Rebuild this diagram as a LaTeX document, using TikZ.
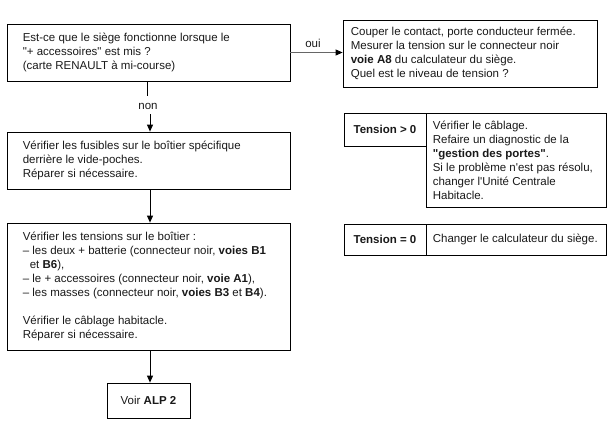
\documentclass[tikz,border=0pt]{standalone}
\usepackage{fontspec}
\setmainfont{Liberation Sans}[Ligatures=TeXOff]
\usetikzlibrary{arrows.meta}
\begin{document}
\begin{tikzpicture}[x=1pt,y=-1pt,
  box/.style={draw=black,line width=0.8pt,inner sep=0pt,rectangle},
  txt/.style={inner sep=0pt,align=left,font=\fontsize{11.5}{14}\selectfont,text=black!90},
  lbl/.style={inner sep=0pt,font=\fontsize{11.5}{14}\selectfont,text=black!90},
  arr/.style={line width=0.9pt,-{Triangle[length=7pt,width=6pt,color=black]}},
  lin/.style={line width=0.9pt}]
\useasboundingbox (0,0) rectangle (616,432);
% left column
\node[box,minimum width=283pt,minimum height=57pt] (b1) at (148.5,52.5) {};
\node[txt,anchor=west] (t1) at ([xshift=16pt]b1.west) {Est-ce que le siège fonctionne lorsque le\\"+ accessoires" est mis ?\\(carte RENAULT à mi-course)};
\node[box,minimum width=283pt,minimum height=57pt] (b2) at (148.5,160.5) {};
\node[txt,anchor=west] (t2) at ([xshift=16pt]b2.west) {Vérifier les fusibles sur le boîtier spécifique\\derrière le vide-poches.\\Réparer si nécessaire.};
\node[box,minimum width=283pt,minimum height=127pt] (b3) at (148.5,286.5) {};
\node[txt,anchor=west] (t3) at ([xshift=16pt]b3.west) {Vérifier les tensions sur le boîtier :\\
– les deux + batterie (connecteur noir, \textbf{voies B1}\\
\hspace*{7pt}et \textbf{B6}),\\
– le + accessoires (connecteur noir, \textbf{voie A1}),\\
– les masses (connecteur noir, \textbf{voies B3} et \textbf{B4}).\\[14pt]
Vérifier le câblage habitacle.\\Réparer si nécessaire.};
\node[box,minimum width=83pt,minimum height=35pt,font=\fontsize{11.5}{14}\selectfont,text=black!90] (b4) at (148.5,400.5) {Voir \textbf{ALP 2}};
% right column
\node[box,minimum width=254pt,minimum height=67pt] (b5) at (470,53.5) {};
\node[txt,anchor=west] (t5) at ([xshift=8pt]b5.west) {Couper le contact, porte conducteur fermée.\\Mesurer la tension sur le connecteur noir\\\textbf{voie A8} du calculateur du siège.\\Quel est le niveau de tension ?};
\node[box,minimum width=82pt,minimum height=33pt,font=\bfseries\fontsize{11.5}{14}\selectfont,text=black!90] (g1) at (385,129.5) {Tension > 0};
\node[box,minimum width=180pt,minimum height=94pt] (g2) at (516,160) {};
\node[txt,anchor=west] (t6) at ([xshift=7pt]g2.west) {Vérifier le câblage.\\Refaire un diagnostic de la\\\textbf{"gestion des portes"}.\\Si le problème n'est pas résolu,\\changer l'Unité Centrale\\Habitacle.};
\node[box,minimum width=82pt,minimum height=31pt,font=\bfseries\fontsize{11.5}{14}\selectfont,text=black!90] (z1) at (385,239.5) {Tension = 0};
\node[box,minimum width=180pt,minimum height=31pt] (z2) at (516,239.5) {};
\node[txt,anchor=west] (t7) at ([xshift=7pt]z2.west) {Changer le calculateur du siège.};
% connectors
\coordinate (c1) at (147,96);
\coordinate (c2) at (150,114);
\node[lbl] (non) at (148,106) {non};
\draw[lin] (b1.south -| c1) -- (c1);
\draw[arr] (c2) -- (c2 |- b2.north);
\draw[arr] (b2.south -| c2) -- (c2 |- b3.north);
\draw[arr] (b3.south -| c2) -- (c2 |- b4.north);
\draw[arr,draw=black!60] (b1.east) -- (b1.east -| b5.west);
\node[lbl] (oui) at (313,43) {oui};
\end{tikzpicture}
\end{document}
